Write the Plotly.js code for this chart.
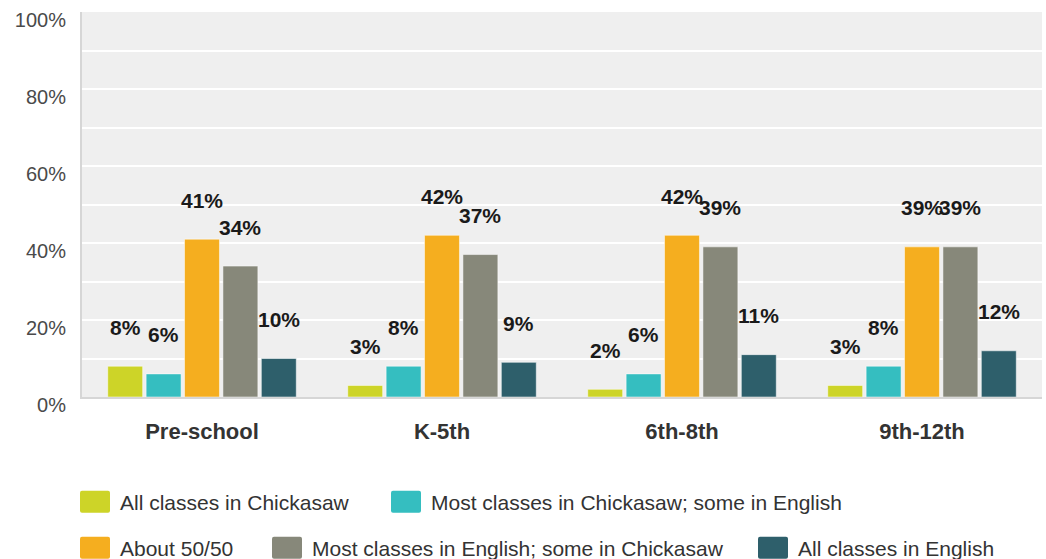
<!DOCTYPE html>
<html><head><meta charset="utf-8">
<script src="https://cdn.plot.ly/plotly-3.0.1.min.js"></script>
<style>html,body{margin:0;padding:0;background:#fff;}#chart{width:1046px;height:559px;}</style>
</head><body><div id="chart"></div>
<script>
const categories = ["Pre-school", "K-5th", "6th-8th", "9th-12th"];
const seriesNames = ["All classes in Chickasaw", "Most classes in Chickasaw; some in English", "About 50/50", "Most classes in English; some in Chickasaw", "All classes in English"];
const allChickasaw = [8, 3, 2, 3];
const mostChickasaw = [6, 8, 6, 8];
const about5050 = [41, 42, 42, 39];
const mostEnglish = [34, 37, 39, 39];
const allEnglish = [10, 9, 11, 12];
const seriesColors = ["#cdd428", "#35bec0", "#f5ae1f", "#87887a", "#2e5f6b"];
const yTickVals = [0, 20, 40, 60, 80, 100];
const yTickText = ["0%", "20%", "40%", "60%", "80%", "100%"];

const seriesValues = [allChickasaw, mostChickasaw, about5050, mostEnglish, allEnglish];
const W = 1046, H = 559;
const margin = {l: 82, r: 4, t: 12, b: 162};
const bargap = 0.2, bargroupgap = 0.09;
const plotW = W - margin.l - margin.r;
const catW = plotW / categories.length;
const slotW = catW * (1 - bargap) / seriesValues.length;
const font = "Liberation Sans, Arial, sans-serif";

// legend entry placement (swatch left edge, row centre) in page pixels
const legendPos = [[80, 502], [391, 502], [80, 548], [272, 548], [758, 548]];
const legendIds = ["legend", "legend2", "legend3", "legend4", "legend5"];

const traces = seriesValues.map((vals, i) => ({
  type: "bar", x: categories, y: vals, name: seriesNames[i],
  marker: {color: seriesColors[i], line: {color: "rgba(255,255,255,0.5)", width: 1}},
  legend: legendIds[i],
  hoverinfo: "skip"
}));

const annotations = [];
seriesValues.forEach((vals, i) => {
  vals.forEach((v, j) => {
    annotations.push({
      x: categories[j], y: v, xref: "x", yref: "y",
      text: v + "%", showarrow: false,
      xshift: (i - (seriesValues.length - 1) / 2) * slotW,
      yshift: 39, yanchor: "middle", xanchor: "center",
      font: {family: font, size: 21, color: "#1a1a1a", weight: "bold"}
    });
  });
});

const layout = {
  width: W, height: H, margin: margin,
  paper_bgcolor: "#ffffff", plot_bgcolor: "#efefef",
  barmode: "group", bargap: bargap, bargroupgap: bargroupgap,
  font: {family: font, color: "#333"},
  xaxis: {
    type: "category", showgrid: false, zeroline: false,
    showline: true, linecolor: "#d6d6d6", linewidth: 2,
    ticks: "", tickfont: {family: font, size: 22, color: "#333", weight: "bold"},
    ticklabelstandoff: 14
  },
  yaxis: {
    range: [0, 100], tickvals: yTickVals, ticktext: yTickText,
    showgrid: true, gridcolor: "#ffffff", gridwidth: 2,
    minor: {dtick: 10, showgrid: true, gridcolor: "#ffffff", gridwidth: 2},
    zeroline: false, showline: true, linecolor: "#d6d6d6", linewidth: 2,
    ticks: "", tickfont: {family: font, size: 20, color: "#4a4a4a"},
    ticklabelstandoff: 10, ticklabelshift: 8
  },
  showlegend: true,
  annotations: annotations
};
legendIds.forEach((id, i) => {
  layout[id] = {
    orientation: "h", xref: "container", yref: "container",
    x: legendPos[i][0] / W, y: 1 - legendPos[i][1] / H, xanchor: "left", yanchor: "middle",
    font: {family: font, size: 21, color: "#333"}, itemclick: false, itemdoubleclick: false,
    bgcolor: "rgba(0,0,0,0)"
  };
});

Plotly.newPlot("chart", traces, layout, {displayModeBar: false, staticPlot: true}).then(() => {
  document.querySelectorAll(".legendpoints path").forEach(p => {
    p.setAttribute("d", "M8,11H-18A2,2 0 0 1 -20,9V-9A2,2 0 0 1 -18,-11H8A2,2 0 0 1 10,-9V9A2,2 0 0 1 8,11Z");
    p.style.strokeWidth = "0px";
  });
});
</script></body></html>
